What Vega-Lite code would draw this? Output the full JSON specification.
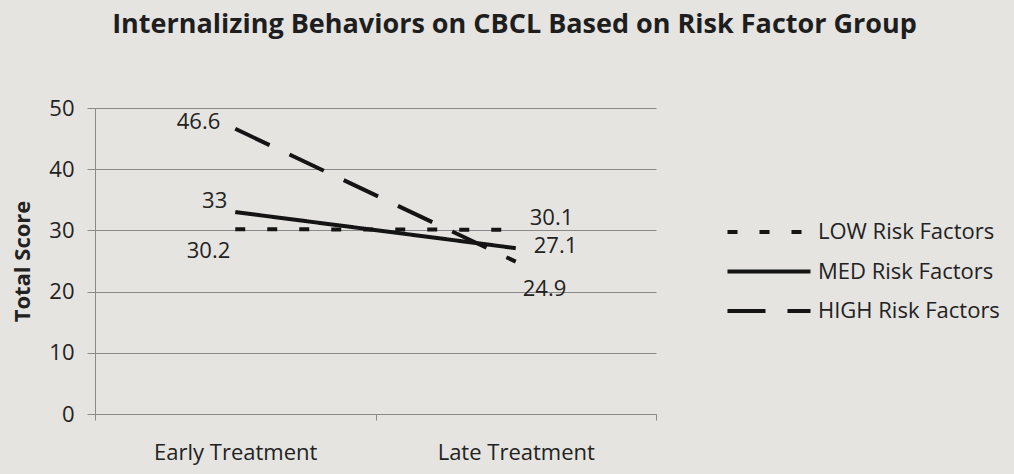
{
  "$schema": "https://vega.github.io/schema/vega-lite/v6.json",
  "autosize": {"type": "none"},
  "width": 561,
  "height": 306,
  "padding": {"left": 95, "top": 108, "right": 358, "bottom": 60},
  "background": "#e5e4e1",
  "title": {
    "text": "Internalizing Behaviors on CBCL Based on Risk Factor Group",
    "font": "Open Sans",
    "fontSize": 27,
    "fontWeight": "bold",
    "color": "#1e1e1e",
    "anchor": "middle",
    "dx": 139,
    "offset": 58
  },
  "config": {
    "view": {"stroke": null},
    "font": "Open Sans",
    "axis": {
      "labelFont": "Open Sans",
      "labelColor": "#222222",
      "titleFont": "Open Sans",
      "titleColor": "#222222"
    }
  },
  "data": {
    "values": [
      {"group": "LOW Risk Factors", "time": "Early Treatment", "score": 30.2},
      {"group": "LOW Risk Factors", "time": "Late Treatment", "score": 30.1},
      {"group": "MED Risk Factors", "time": "Early Treatment", "score": 33},
      {"group": "MED Risk Factors", "time": "Late Treatment", "score": 27.1},
      {"group": "HIGH Risk Factors", "time": "Early Treatment", "score": 46.6},
      {"group": "HIGH Risk Factors", "time": "Late Treatment", "score": 24.9}
    ]
  },
  "encoding": {
    "x": {
      "field": "time",
      "type": "nominal",
      "sort": ["Early Treatment", "Late Treatment"],
      "scale": {"type": "band", "paddingInner": 0, "paddingOuter": 0},
      "axis": {
        "title": null,
        "labelAngle": 0,
        "labelFontSize": 22,
        "labelPadding": 22,
        "tickBand": "extent",
        "tickSize": 6,
        "tickColor": "#8a8a8a",
        "domainColor": "#8a8a8a",
        "grid": false
      }
    },
    "y": {
      "field": "score",
      "type": "quantitative",
      "scale": {"domain": [0, 50], "nice": false, "zero": true},
      "axis": {
        "title": "Total Score",
        "titleFontSize": 22,
        "titleFontWeight": "bold",
        "titlePadding": 14,
        "values": [0, 10, 20, 30, 40, 50],
        "labelFontSize": 22,
        "labelPadding": 13,
        "tickSize": 8,
        "tickColor": "#8a8a8a",
        "domainColor": "#8a8a8a",
        "gridColor": "#8a8a8a",
        "grid": true
      }
    }
  },
  "layer": [
    {
      "mark": {"type": "line", "color": "#141414", "strokeWidth": 4, "strokeCap": "butt"},
      "encoding": {
        "strokeDash": {
          "field": "group",
          "type": "nominal",
          "scale": {
            "domain": ["LOW Risk Factors", "MED Risk Factors", "HIGH Risk Factors"],
            "range": [[10, 22], [1, 0], [38, 22]]
          },
          "legend": {
            "title": null,
            "orient": "none",
            "legendX": 658,
            "legendY": 108,
            "padding": 0,
            "symbolType": "M-3,0H3",
            "symbolSize": 766,
            "symbolStrokeWidth": 4,
            "symbolStrokeColor": "#141414",
            "labelFont": "Open Sans",
            "labelFontSize": 22,
            "labelColor": "#222222",
            "labelOffset": 33,
            "labelLimit": 400,
            "rowPadding": 12.5
          }
        }
      }
    },
    {
      "transform": [{"filter": "datum.group === 'HIGH Risk Factors' && datum.time === 'Early Treatment'"}],
      "mark": {"type": "text", "align": "right", "baseline": "middle", "dx": -15, "dy": -7, "fontSize": 22, "color": "#222222"},
      "encoding": {"text": {"field": "score", "type": "quantitative"}}
    },
    {
      "transform": [{"filter": "datum.group === 'MED Risk Factors' && datum.time === 'Early Treatment'"}],
      "mark": {"type": "text", "align": "right", "baseline": "middle", "dx": -8, "dy": -11, "fontSize": 22, "color": "#222222"},
      "encoding": {"text": {"field": "score", "type": "quantitative"}}
    },
    {
      "transform": [{"filter": "datum.group === 'LOW Risk Factors' && datum.time === 'Early Treatment'"}],
      "mark": {"type": "text", "align": "right", "baseline": "middle", "dx": -5, "dy": 22, "fontSize": 22, "color": "#222222"},
      "encoding": {"text": {"field": "score", "type": "quantitative"}}
    },
    {
      "transform": [{"filter": "datum.group === 'LOW Risk Factors' && datum.time === 'Late Treatment'"}],
      "mark": {"type": "text", "align": "left", "baseline": "middle", "dx": 14, "dy": -12, "fontSize": 22, "color": "#222222"},
      "encoding": {"text": {"field": "score", "type": "quantitative"}}
    },
    {
      "transform": [{"filter": "datum.group === 'MED Risk Factors' && datum.time === 'Late Treatment'"}],
      "mark": {"type": "text", "align": "left", "baseline": "middle", "dx": 18, "dy": -2, "fontSize": 22, "color": "#222222"},
      "encoding": {"text": {"field": "score", "type": "quantitative"}}
    },
    {
      "transform": [{"filter": "datum.group === 'HIGH Risk Factors' && datum.time === 'Late Treatment'"}],
      "mark": {"type": "text", "align": "left", "baseline": "middle", "dx": 7, "dy": 27, "fontSize": 22, "color": "#222222"},
      "encoding": {"text": {"field": "score", "type": "quantitative"}}
    }
  ]
}
